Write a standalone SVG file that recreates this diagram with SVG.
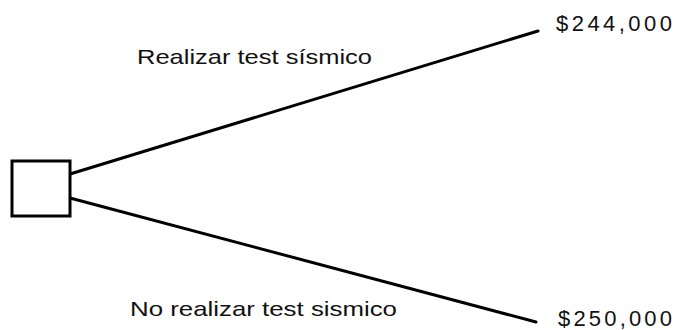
<svg xmlns="http://www.w3.org/2000/svg" width="675" height="330" viewBox="0 0 675 330">
<style>
.t{font-family:"Liberation Sans",Arial,sans-serif;font-size:21px;fill:#111}
.p{font-family:"Liberation Sans",Arial,sans-serif;font-size:22px;fill:#111}
.e{stroke:#000;stroke-width:3;fill:none;stroke-linecap:round}
</style>
<rect width="675" height="330" fill="#fff"/>
<g id="connectors">
<line class="e" x1="70" y1="174" x2="538" y2="31"/>
<line class="e" x1="70" y1="198" x2="536" y2="322"/>
</g>
<g id="decision">
<rect x="12" y="161" width="58" height="55" fill="#fff" stroke="#000" stroke-width="3"/>
</g>
<g id="labels">
<text class="t" x="137" y="64" textLength="235" lengthAdjust="spacingAndGlyphs">Realizar test sísmico</text>
<text class="t" x="130" y="316" textLength="267" lengthAdjust="spacingAndGlyphs">No realizar test sismico</text>
</g>
<g id="payoff1"><text class="p" x="556" y="31" textLength="116" lengthAdjust="spacing">$244,000</text></g>
<g id="payoff2"><text class="p" x="558" y="326" textLength="114" lengthAdjust="spacing">$250,000</text></g>
</svg>
